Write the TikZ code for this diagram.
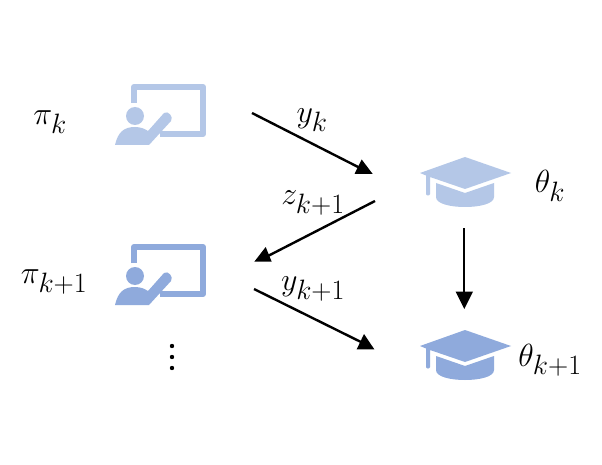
\RequirePackage{fix-cm}
\documentclass[tikz,border=0pt]{standalone}
\usepackage{fontspec}
\DeclareMathSizes{32}{32}{28}{22}
\definecolor{lightblue}{HTML}{B4C7E7}
\definecolor{midblue}{HTML}{8FAADC}
\tikzset{
  conn/.style={line width=2.4pt},
  lab/.style={inner sep=0pt,font=\fontsize{32}{38}\selectfont},
  teacher/.pic={
    \draw[pic actions,fill=none,line width=6pt,line cap=butt,line join=round]
      (-31,-17) -- (-31,-33) -- (38,-33) -- (38,14) -- (-5,14);
    \fill[pic actions,draw=none] (-30,-4) circle (9);
    \fill[pic actions,draw=none] (-50,25) .. controls (-47,12) and (-41,7) .. (-30,7)
      .. controls (-24,7) and (-20,9) .. (-17,11) -- (-1,-7)
      .. controls (3,-10) and (9,-3) .. (6,1) -- (-16,25) -- cycle;
  },
  gradcap/.pic={
    \fill[pic actions,draw=none] (0,-16) -- (46,0) -- (0,16) -- (-35,4) -- (-35,21)
      .. controls (-35,23) and (-39,23) .. (-39,21) -- (-39,2.5) -- (-45,0) -- cycle;
    \fill[pic actions,draw=none] (-29,10) -- (0,20) -- (29,10) -- (29,24)
      .. controls (29,31) and (14,34) .. (0,34) .. controls (-14,34) and (-29,31) .. (-29,24) -- cycle;
  }
}
\begin{document}
\begin{tikzpicture}[x=1pt,y=-1pt]
\useasboundingbox (0,0) rectangle (602,465);
\fill[white] (0,0) rectangle (602,465);
\pic[lightblue] (t1) at (165,120) {teacher};
\pic[midblue] (t2) at (165,280) {teacher};
\pic[lightblue] (c1) at (465,173) {gradcap};
\pic[midblue] (c2) at (465,346) {gradcap};
\coordinate (a1s) at (252,113); \coordinate (a1e) at (362,169);
\coordinate (a2s) at (375,201); \coordinate (a2e) at (266,257);
\coordinate (a3s) at (254,289); \coordinate (a3e) at (365,344);
\coordinate (a4s) at (464,228); \coordinate (a4e) at (464,295);
\draw[conn] (a1s) -- (a1e);
\draw[conn] (a2s) -- (a2e);
\draw[conn] (a3s) -- (a3e);
\draw[conn] (a4s) -- (a4e);
\fill (361.7,159.5) -- (372.7,174) -- (354.5,174) -- cycle;
\fill (265.7,247) -- (271.7,261.7) -- (254.3,261.7) -- cycle;
\fill (364,334) -- (374.3,349.3) -- (356.7,349.3) -- cycle;
\fill (455.7,291.7) -- (473,291.7) -- (464.3,309) -- cycle;
\node[lab] (pk) at (50,122) {$\pi_k$};
\node[lab] (pk1) at (54,282) {$\pi_{k+1}$};
\node[lab] (yk) at (312,120) {$y_k$};
\node[lab] (zk) at (313,203) {$z_{k+1}$};
\node[lab] (yk1) at (313,289) {$y_{k+1}$};
\node[lab] (tk) at (550,186) {$\theta_k$};
\node[lab] (tk1) at (550,360) {$\theta_{k+1}$};
\foreach \n/\yy in {d1/346,d2/357,d3/368} \fill (172,\yy) circle (2.2);
\end{tikzpicture}
\end{document}
